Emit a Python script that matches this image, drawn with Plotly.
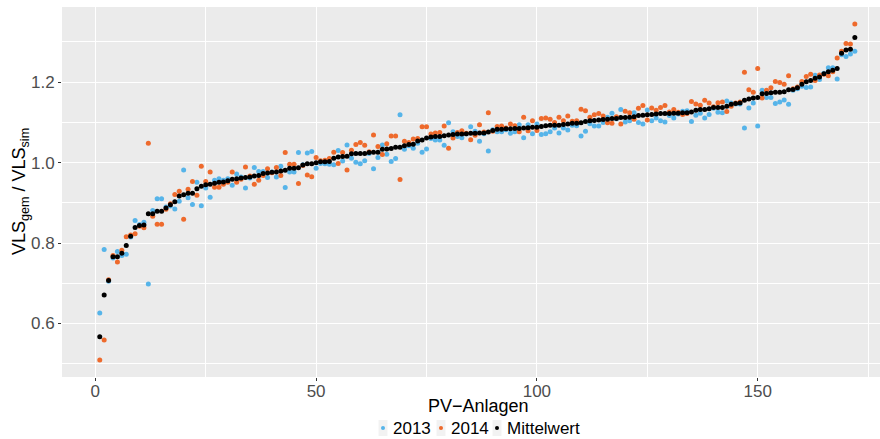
import plotly.graph_objects as go

anlagen = list(range(1, 173))

mittelwert = [
    0.567, 0.671, 0.707, 0.766, 0.766, 0.775, 0.794, 0.817, 0.839, 0.844,
    0.845, 0.873, 0.873, 0.879, 0.879, 0.887, 0.895, 0.903, 0.917, 0.920,
    0.924, 0.924, 0.935, 0.941, 0.945, 0.946, 0.949, 0.951, 0.952, 0.955,
    0.959, 0.960, 0.962, 0.963, 0.964, 0.967, 0.968, 0.973, 0.974, 0.976,
    0.977, 0.979, 0.981, 0.986, 0.986, 0.987, 0.994, 0.997, 0.997, 1.000,
    1.002, 1.002, 1.003, 1.011, 1.014, 1.015, 1.016, 1.022, 1.023, 1.023,
    1.023, 1.025, 1.026, 1.026, 1.033, 1.034, 1.035, 1.038, 1.038, 1.042,
    1.045, 1.046, 1.054, 1.056, 1.061, 1.064, 1.065, 1.065, 1.067, 1.069,
    1.070, 1.071, 1.071, 1.072, 1.073, 1.073, 1.074, 1.074, 1.076, 1.080,
    1.083, 1.083, 1.084, 1.084, 1.085, 1.085, 1.086, 1.087, 1.088, 1.088,
    1.090, 1.092, 1.093, 1.093, 1.093, 1.095, 1.096, 1.098, 1.098, 1.099,
    1.102, 1.104, 1.105, 1.106, 1.107, 1.108, 1.110, 1.110, 1.112, 1.112,
    1.113, 1.114, 1.117, 1.118, 1.119, 1.120, 1.121, 1.122, 1.122, 1.122,
    1.123, 1.123, 1.124, 1.124, 1.126, 1.130, 1.132, 1.132, 1.134, 1.137,
    1.137, 1.137, 1.140, 1.145, 1.147, 1.148, 1.155, 1.158, 1.161, 1.162,
    1.171, 1.172, 1.174, 1.175, 1.175, 1.176, 1.181, 1.182, 1.186, 1.195,
    1.201, 1.204, 1.210, 1.213, 1.221, 1.226, 1.230, 1.234, 1.272, 1.280,
    1.282, 1.311,
]

vls_2013 = [
    0.626, 0.784, 0.705, 0.763, 0.779, 0.769, 0.772, 0.815, 0.856, 0.846,
    0.852, 0.698, 0.881, 0.910, 0.910, 0.890, 0.892, 0.885, 0.904, 0.982,
    0.913, 0.896, 0.951, 0.893, 0.937, 0.914, 0.956, 0.960, 0.956, 0.960,
    0.944, 0.972, 0.964, 0.937, 0.962, 0.988, 0.978, 0.978, 0.963, 0.977,
    0.964, 0.991, 0.938, 0.977, 0.977, 1.025, 0.995, 1.024, 1.028, 0.986,
    0.998, 0.997, 0.996, 0.995, 1.030, 1.004, 1.044, 1.011, 1.001, 0.997,
    1.005, 1.023, 0.985, 1.013, 1.044, 1.021, 1.003, 1.010, 1.119, 1.033,
    1.042, 1.036, 1.048, 1.026, 1.034, 1.060, 1.056, 1.056, 1.043, 1.099,
    1.077, 1.065, 1.062, 1.071, 1.089, 1.078, 1.053, 1.072, 1.029, 1.082,
    1.077, 1.077, 1.082, 1.073, 1.077, 1.094, 1.062, 1.094, 1.072, 1.096,
    1.070, 1.072, 1.077, 1.086, 1.074, 1.086, 1.081, 1.093, 1.092, 1.066,
    1.078, 1.097, 1.091, 1.091, 1.100, 1.113, 1.123, 1.109, 1.132, 1.101,
    1.104, 1.124, 1.100, 1.096, 1.131, 1.104, 1.111, 1.104, 1.101, 1.117,
    1.111, 1.121, 1.128, 1.129, 1.102, 1.118, 1.123, 1.111, 1.120, 1.135,
    1.125, 1.124, 1.153, 1.148, 1.146, 1.146, 1.086, 1.136, 1.148, 1.091,
    1.180, 1.162, 1.162, 1.147, 1.151, 1.156, 1.145, 1.180, 1.184, 1.190,
    1.187, 1.188, 1.217, 1.207, 1.222, 1.236, 1.236, 1.208, 1.268, 1.264,
    1.270, 1.277,
]

vls_2014 = [
    0.509, 0.559, 0.709, 0.769, 0.753, 0.782, 0.816, 0.820, 0.823, 0.842,
    0.838, 1.048, 0.867, 0.847, 0.847, 0.884, 0.898, 0.921, 0.929, 0.859,
    0.934, 0.953, 0.919, 0.991, 0.953, 0.977, 0.939, 0.939, 0.946, 0.951,
    0.977, 0.951, 0.959, 0.989, 0.967, 0.946, 0.956, 0.968, 0.985, 0.975,
    0.988, 0.968, 1.025, 0.996, 0.996, 0.948, 0.993, 0.969, 0.965, 1.013,
    1.005, 1.006, 1.010, 1.026, 0.998, 1.025, 0.982, 1.031, 1.045, 1.050,
    1.043, 1.027, 1.069, 1.040, 1.020, 1.047, 1.066, 1.066, 0.958, 1.053,
    1.050, 1.059, 1.060, 1.089, 1.089, 1.071, 1.074, 1.075, 1.091, 1.036,
    1.061, 1.075, 1.079, 1.073, 1.057, 1.068, 1.094, 1.076, 1.124, 1.078,
    1.090, 1.091, 1.086, 1.096, 1.092, 1.077, 1.113, 1.079, 1.104, 1.080,
    1.110, 1.111, 1.108, 1.100, 1.113, 1.104, 1.116, 1.103, 1.104, 1.133,
    1.129, 1.113, 1.119, 1.122, 1.116, 1.099, 1.098, 1.114, 1.096, 1.128,
    1.124, 1.108, 1.135, 1.142, 1.106, 1.136, 1.130, 1.137, 1.142, 1.126,
    1.132, 1.125, 1.120, 1.122, 1.152, 1.146, 1.143, 1.155, 1.148, 1.139,
    1.149, 1.151, 1.127, 1.140, 1.148, 1.151, 1.225, 1.181, 1.175, 1.234,
    1.161, 1.180, 1.186, 1.202, 1.199, 1.195, 1.216, 1.184, 1.188, 1.202,
    1.214, 1.220, 1.204, 1.218, 1.220, 1.216, 1.226, 1.260, 1.277, 1.296,
    1.295, 1.345,
]

series_names = ["2013", "2014", "Mittelwert"]
x_ticks = [0, 50, 100, 150]
y_ticks = [0.6, 0.8, 1.0, 1.2]
y_tick_labels = ["0.6", "0.8", "1.0", "1.2"]

colors = {"2013": "#56B4E9", "2014": "#EE6A2C", "Mittelwert": "#000000"}
FONT = "Liberation Sans, Arial, sans-serif"

# layout geometry (pixels)
W, H = 880, 439
ML, MR, MT, MB = 62, 0, 7, 62
PW = W - ML - MR
PH = H - MT - MB


def px_x(p):
    return (p - ML) / PW


def px_y(p):
    return (H - MB - p) / PH


fig = go.Figure()
for name, vals in zip(series_names, [vls_2013, vls_2014, mittelwert]):
    fig.add_trace(go.Scatter(
        x=anlagen, y=vals, mode="markers", name=name, showlegend=False,
        marker=dict(size=5, color=colors[name], line=dict(width=0)),
        hoverinfo="skip",
    ))

# manual ggplot-style legend at the bottom
legend_key_px = [383, 441, 497]
legend_y_px = 428
shapes = []
annotations = []
for name, kx in zip(series_names, legend_key_px):
    xa = px_x(kx)
    ya = px_y(legend_y_px)
    shapes.append(dict(type="rect", xref="paper", yref="paper",
                       xsizemode="pixel", ysizemode="pixel",
                       xanchor=xa, yanchor=ya, x0=-4.5, x1=4.5, y0=-8, y1=8,
                       fillcolor="#F2F2F2", line=dict(width=0), layer="above"))
    shapes.append(dict(type="circle", xref="paper", yref="paper",
                       xsizemode="pixel", ysizemode="pixel",
                       xanchor=xa, yanchor=ya, x0=-2, x1=2, y0=-2, y1=2,
                       fillcolor=colors[name], line=dict(width=0), layer="above"))
    annotations.append(dict(text=name, xref="paper", yref="paper",
                            x=px_x(kx + 8), y=ya, xanchor="left", yanchor="middle",
                            showarrow=False,
                            font=dict(family=FONT, size=17, color="black")))

annotations.append(dict(text="PV\u2212Anlagen", xref="paper", yref="paper",
                        x=px_x(478), y=px_y(406), xanchor="center", yanchor="middle",
                        showarrow=False, font=dict(family=FONT, size=18, color="black")))
annotations.append(dict(text="VLS<sub>gem</sub> / VLS<sub>sim</sub>", xref="paper", yref="paper",
                        x=px_x(20), y=0.5, xanchor="center", yanchor="middle", textangle=-90,
                        showarrow=False, font=dict(family=FONT, size=18, color="black")))

fig.update_layout(
    width=W, height=H,
    margin=dict(l=ML, r=MR, t=MT, b=MB, autoexpand=False),
    paper_bgcolor="white",
    plot_bgcolor="#EBEBEB",
    font=dict(family=FONT, size=15, color="black"),
    showlegend=False,
    hovermode=False,
    xaxis=dict(
        range=[-7.55, 177.7], tickvals=x_ticks, ticktext=[str(v) for v in x_ticks],
        showgrid=True, gridcolor="white", gridwidth=1.1, zeroline=False,
        ticks="outside", ticklen=3, tickcolor="#333333", tickwidth=1,
        tickfont=dict(family=FONT, size=17, color="#4D4D4D"),
        ticklabelstandoff=-4,
        minor=dict(tickvals=[25, 75, 125, 175], showgrid=True, gridcolor="white",
                   gridwidth=0.5, ticks=""),
        showline=False, automargin=False,
    ),
    yaxis=dict(
        range=[0.467, 1.387], tickvals=y_ticks, ticktext=y_tick_labels,
        showgrid=True, gridcolor="white", gridwidth=1.1, zeroline=False,
        ticks="outside", ticklen=3, tickcolor="#333333", tickwidth=1,
        tickfont=dict(family=FONT, size=17, color="#4D4D4D"),
        minor=dict(tickvals=[0.5, 0.7, 0.9, 1.1, 1.3], showgrid=True, gridcolor="white",
                   gridwidth=0.5, ticks=""),
        showline=False, automargin=False,
    ),
    shapes=shapes,
    annotations=annotations,
)

fig.write_html(
    "out.html",
    config={"displayModeBar": False},
    post_script="document.body.style.margin='0';document.body.style.padding='0';",
)
